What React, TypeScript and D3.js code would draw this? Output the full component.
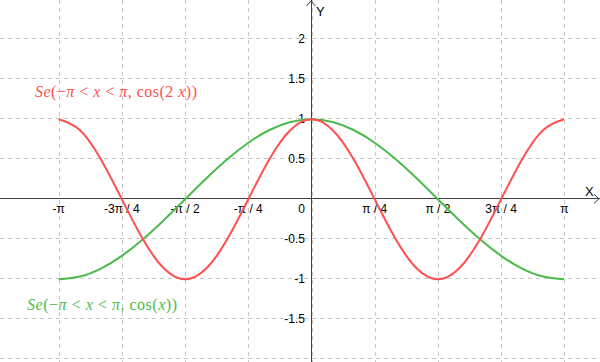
import React from "react";
import * as d3 from "d3";

// x positions in units of pi/12
const xSteps = [-12, -11, -10, -9, -8, -7, -6, -5, -4, -3, -2, -1, 0, 1, 2, 3, 4, 5, 6, 7, 8, 9, 10, 11, 12];
const cosX = [-1, -0.966, -0.866, -0.707, -0.5, -0.259, 0, 0.259, 0.5, 0.707, 0.866, 0.966, 1, 0.966, 0.866, 0.707, 0.5, 0.259, 0, -0.259, -0.5, -0.707, -0.866, -0.966, -1];
const cos2X = [1, 0.866, 0.5, 0, -0.5, -0.866, -1, -0.866, -0.5, 0, 0.5, 0.866, 1, 0.866, 0.5, 0, -0.5, -0.866, -1, -0.866, -0.5, 0, 0.5, 0.866, 1];

// x ticks in units of pi/4
const xTickSteps = [-4, -3, -2, -1, 1, 2, 3, 4];
const xTickLabels = ["-π", "-3π / 4", "-π / 2", "-π / 4", "π / 4", "π / 2", "3π / 4", "π"];
const yTicks = [-1.5, -1, -0.5, 0.5, 1, 1.5, 2];
const yTickLabels = ["-1.5", "-1", "-0.5", "0.5", "1", "1.5", "2"];
const xGridSteps = [-4, -3, -2, -1, 0, 1, 2, 3, 4];
const yGrid = [-2, -1.5, -1, -0.5, 0.5, 1, 1.5, 2];

const W = 600;
const H = 362;
const RED = "#ff5050";
const GREEN = "#4cbb4c";
const GRID = "#c8c8c8";
const AXIS = "#404040";

export default function App() {
  const x = d3.scaleLinear().domain([-Math.PI, Math.PI]).range([58.7, 564.3]);
  const y = d3.scaleLinear().domain([0, 1]).range([199.3, 119.3]);
  const x0 = x(0);
  const y0 = y(0);

  const line = d3
    .line<[number, number]>()
    .x((d) => x(d[0]))
    .y((d) => y(d[1]))
    .curve(d3.curveNatural);

  const ptsCos = xSteps.map((s, i) => [(s * Math.PI) / 12, cosX[i]] as [number, number]);
  const ptsCos2 = xSteps.map((s, i) => [(s * Math.PI) / 12, cos2X[i]] as [number, number]);

  const tickFont = "Liberation Sans, Arial, sans-serif";
  const mathFont = "Liberation Serif, Times New Roman, serif";

  return (
    <svg
      width={W}
      height={H}
      style={{ position: "absolute", left: 0, top: 0, background: "#fff" }}
    >
      <rect x={0} y={0} width={W} height={H} fill="#fff" />
      {/* grid */}
      {xGridSteps.map((s) => (
        <line
          key={"vx" + s}
          x1={Math.round(x((s * Math.PI) / 4)) + 0.5}
          x2={Math.round(x((s * Math.PI) / 4)) + 0.5}
          y1={0}
          y2={H}
          stroke={GRID}
          strokeDasharray="4,4"
        />
      ))}
      {yGrid.map((v) => (
        <line
          key={"hy" + v}
          x1={0}
          x2={W}
          y1={Math.round(y(v)) - 0.5}
          y2={Math.round(y(v)) - 0.5}
          stroke={GRID}
          strokeDasharray="4,4"
        />
      ))}
      {/* axes */}
      <line x1={0} x2={W} y1={Math.round(y0) - 0.5} y2={Math.round(y0) - 0.5} stroke={AXIS} />
      <line x1={Math.round(x0) - 0.5} x2={Math.round(x0) - 0.5} y1={0} y2={H} stroke={AXIS} />
      <polyline
        points={`${W - 6},${y0 - 5} ${W - 1},${y0 - 0.5} ${W - 6},${y0 + 4}`}
        fill="none"
        stroke={AXIS}
      />
      <polyline
        points={`${x0 - 5},${6} ${x0 - 0.5},${1} ${x0 + 4},${6}`}
        fill="none"
        stroke={AXIS}
      />
      <text x={585} y={196} fontFamily={tickFont} fontSize={13} fill="#000">X</text>
      <text x={316} y={16} fontFamily={tickFont} fontSize={13} fill="#000">Y</text>
      {/* x tick labels */}
      {xTickSteps.map((s, i) => (
        <text
          key={"xt" + s}
          x={x((s * Math.PI) / 4)}
          y={213}
          textAnchor="middle"
          fontFamily={tickFont}
          fontSize={12}
          fill="#000"
        >
          {xTickLabels[i]}
        </text>
      ))}
      <text x={305} y={213} textAnchor="end" fontFamily={tickFont} fontSize={12} fill="#000">0</text>
      {/* y tick labels */}
      {yTicks.map((v, i) => (
        <text
          key={"yt" + v}
          x={305}
          y={y(v) + 4}
          textAnchor="end"
          fontFamily={tickFont}
          fontSize={12}
          fill="#000"
        >
          {yTickLabels[i]}
        </text>
      ))}
      {/* curves */}
      <path d={line(ptsCos) || ""} fill="none" stroke={GREEN} strokeWidth={2} />
      <path d={line(ptsCos2) || ""} fill="none" stroke={RED} strokeWidth={2} />
      {/* labels */}
      <text x={35} y={97} fontFamily={mathFont} fontSize={16} fill={RED} textLength={162} lengthAdjust="spacing">
        <tspan fontStyle="italic">Se</tspan>
        <tspan>(−</tspan>
        <tspan fontStyle="italic">π</tspan>
        <tspan> &lt; </tspan>
        <tspan fontStyle="italic">x</tspan>
        <tspan> &lt; </tspan>
        <tspan fontStyle="italic">π</tspan>
        <tspan>, cos(2 </tspan>
        <tspan fontStyle="italic">x</tspan>
        <tspan>))</tspan>
      </text>
      <text x={27} y={310} fontFamily={mathFont} fontSize={16} fill={GREEN} textLength={150} lengthAdjust="spacing">
        <tspan fontStyle="italic">Se</tspan>
        <tspan>(−</tspan>
        <tspan fontStyle="italic">π</tspan>
        <tspan> &lt; </tspan>
        <tspan fontStyle="italic">x</tspan>
        <tspan> &lt; </tspan>
        <tspan fontStyle="italic">π</tspan>
        <tspan>, cos(</tspan>
        <tspan fontStyle="italic">x</tspan>
        <tspan>))</tspan>
      </text>
    </svg>
  );
}
